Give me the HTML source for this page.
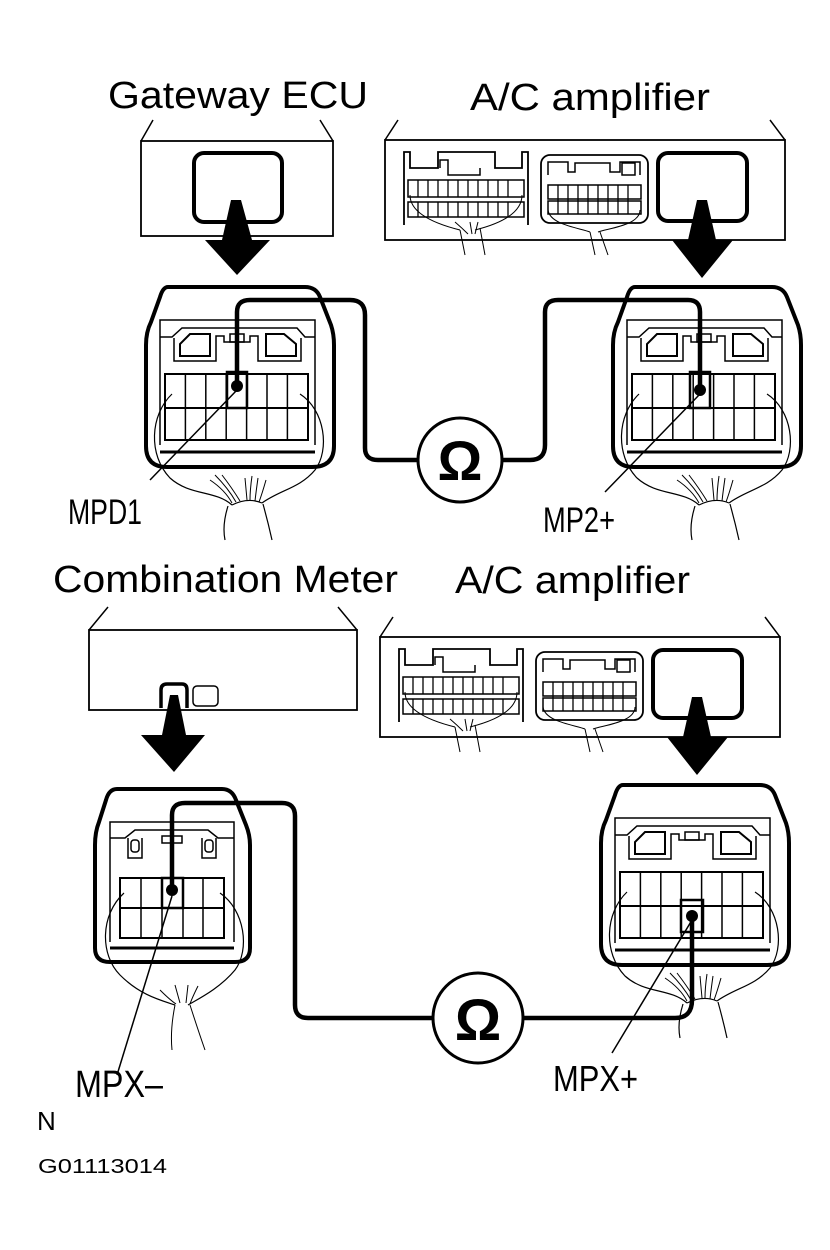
<!DOCTYPE html>
<html><head><meta charset="utf-8"><style>
html,body{margin:0;padding:0;background:#fff}
svg{display:block}
text{font-family:"Liberation Sans",sans-serif;fill:#000}
</style></head><body>
<svg width="830" height="1250" viewBox="0 0 830 1250" xmlns="http://www.w3.org/2000/svg">
<defs>
<g id="conn7" fill="none" stroke="#000">
  <path d="M168,287 L305,287 Q316,287 320,297 L331,325 Q334,334 334,345 L334,446 Q334,467 312,467 L167,467 Q146,467 146,446 L146,345 Q146,332 151,322 L160,297 Q163,287 168,287 Z" stroke-width="4"/>
  <path d="M160,445 L160,320 L315,320 L315,445" stroke-width="1.5"/>
  <line x1="160" y1="452" x2="315" y2="452" stroke-width="3"/>
  <path d="M160,337 L172,337 L182,328 L297,328 L305,337 L315,337" stroke-width="1.5"/>
  <path d="M174,338 L174,361 L216,361 L216,336 L224,336 L224,342 L250,342 L250,336 L258,336 L258,361 L301,361 L301,338" stroke-width="1.5"/>
  <path d="M180,356 L180,344 L190,334 L210,334 L210,356 Z" stroke-width="2"/>
  <path d="M266,356 L266,334 L284,334 L296,344 L296,356 Z" stroke-width="2"/>
  <rect x="230" y="334" width="14" height="8" stroke-width="1.5"/>
  <rect x="165" y="374" width="143" height="66" stroke-width="2"/>
  <line x1="165" y1="408" x2="308" y2="408" stroke-width="2"/>
  <line x1="185.4" y1="374" x2="185.4" y2="440" stroke-width="1.5"/>
  <line x1="205.8" y1="374" x2="205.8" y2="440" stroke-width="1.5"/>
  <line x1="226.2" y1="374" x2="226.2" y2="440" stroke-width="1.5"/>
  <line x1="246.6" y1="374" x2="246.6" y2="440" stroke-width="1.5"/>
  <line x1="267" y1="374" x2="267" y2="440" stroke-width="1.5"/>
  <line x1="287.4" y1="374" x2="287.4" y2="440" stroke-width="1.5"/>
  <path d="M172,394 C150,415 148,455 170,478 C190,496 215,490 232,505" stroke-width="1.2"/>
  <path d="M300,394 C325,410 330,450 315,470 C300,488 280,490 262,503" stroke-width="1.2"/>
  <path d="M232,505 Q248,497 262,503" stroke-width="1.2"/>
  <path d="M228,506 Q222,525 225,540 M263,504 Q268,522 272,540" stroke-width="1.2"/>
  <path d="M210,480 Q225,490 232,503 M215,475 Q228,488 236,502 M222,475 Q232,488 240,501 M245,478 L247,500 M252,476 Q250,490 250,500 M258,478 Q256,492 255,501 M266,480 Q262,494 259,502" stroke-width="1"/>
</g>
<g id="amp" fill="none" stroke="#000">
  <path d="M385,140 L398,120 M785,140 L770,120" stroke-width="1.5"/>
  <rect x="385" y="140" width="400" height="100" stroke-width="1.8"/>
  <path d="M404,225 L404,152 L410,152 L410,168 L438,168 L438,152 L495,152 L495,168 L522,168 L522,152 L528,152 L528,225" stroke-width="1.8"/>
  <path d="M440,168 L440,160 L448,160 L448,175 L480,175 L480,168" stroke-width="1.5"/>
  <rect x="408" y="180" width="116" height="17" stroke-width="1.5"/>
  <rect x="408" y="202" width="116" height="15" stroke-width="1.5"/>
  <path d="M418,180v17M428,180v17M438,180v17M448,180v17M458,180v17M468,180v17M478,180v17M488,180v17M498,180v17M508,180v17M418,202v15M428,202v15M438,202v15M448,202v15M458,202v15M468,202v15M478,202v15M488,202v15M498,202v15M508,202v15" stroke-width="1.3"/>
  <path d="M410,195 C410,215 440,225 460,230 M522,195 C522,215 495,225 475,230" stroke-width="1"/>
  <path d="M460,230 L465,255 M480,228 L485,255 M455,222 Q462,228 468,234 M470,222 L472,234 M478,222 L475,234" stroke-width="1"/>
  <rect x="541" y="155" width="107" height="68" rx="9" stroke-width="1.8"/>
  <path d="M548,175 L548,162 L568,162 L568,172 L575,172 L575,163 L610,163 L610,172 L620,172 L620,162 L640,162 L640,175" stroke-width="1.5"/>
  <rect x="622" y="163" width="13" height="12" stroke-width="1.5"/>
  <rect x="548" y="185" width="93" height="14" stroke-width="1.5"/>
  <rect x="548" y="201" width="93" height="13" stroke-width="1.5"/>
  <path d="M558,185v29M568,185v29M578,185v29M588,185v29M598,185v29M608,185v29M618,185v29M628,185v29" stroke-width="1.3"/>
  <path d="M548,210 C550,225 580,228 590,232 M640,210 C640,225 610,228 598,232 M590,232 L595,255 M600,232 L608,255" stroke-width="1"/>
  <rect x="658" y="153" width="89" height="68" rx="10" stroke-width="4"/>
  <path d="M697,200 L707,200 L716,240 L733,240 L702,278 L672,240 L688,240 Z" fill="#000" stroke="none"/>
</g>
</defs>

<!-- titles -->
<text x="108" y="108" font-size="38" textLength="260" lengthAdjust="spacingAndGlyphs">Gateway ECU</text>
<text x="470" y="110" font-size="38" textLength="240" lengthAdjust="spacingAndGlyphs">A/C amplifier</text>

<!-- Gateway ECU box -->
<g fill="none" stroke="#000">
  <path d="M141,141 L153,120 M333,141 L320,120" stroke-width="1.5"/>
  <rect x="141" y="141" width="192" height="95" stroke-width="1.8"/>
  <rect x="194" y="153" width="88" height="69" rx="10" stroke-width="4"/>
</g>
<path d="M231,200 L241,200 L252,240 L270,240 L237,275 L205,240 L222,240 Z" fill="#000"/>

<use href="#amp"/>

<!-- top connectors -->
<use href="#conn7"/>
<use href="#conn7" transform="translate(467,0)"/>

<!-- top wiring -->
<g fill="none" stroke="#000" stroke-width="4.5">
  <path d="M237,382 L237,312 Q237,300 250,300 L350,300 Q365,300 365,315 L365,448 Q365,460 378,460 L418,460"/>
  <path d="M502,460 L530,460 Q545,460 545,445 L545,312 Q545,300 558,300 L688,300 Q700,300 700,312 L700,385"/>
</g>
<rect x="227" y="372" width="20" height="36" fill="none" stroke="#000" stroke-width="2.5"/>
<circle cx="237" cy="386" r="6" fill="#000"/>
<rect x="690" y="372" width="20" height="36" fill="none" stroke="#000" stroke-width="2.5"/>
<circle cx="700" cy="390" r="6" fill="#000"/>
<line x1="237" y1="390" x2="150" y2="480" stroke="#000" stroke-width="1.5"/>
<line x1="700" y1="394" x2="605" y2="492" stroke="#000" stroke-width="1.5"/>
<circle cx="460" cy="460" r="42" fill="#fff" stroke="#000" stroke-width="3"/>
<text x="460" y="480" font-size="56" font-weight="bold" text-anchor="middle">Ω</text>

<text x="68" y="524" font-size="35" textLength="74" lengthAdjust="spacingAndGlyphs">MPD1</text>
<text x="543" y="532" font-size="35" textLength="72" lengthAdjust="spacingAndGlyphs">MP2+</text>

<text x="53" y="592" font-size="38" textLength="345" lengthAdjust="spacingAndGlyphs">Combination Meter</text>
<text x="455" y="593" font-size="38" textLength="235" lengthAdjust="spacingAndGlyphs">A/C amplifier</text>

<!-- Combination meter box -->
<g fill="none" stroke="#000">
  <path d="M89,630 L108,607 M357,630 L338,607" stroke-width="1.5"/>
  <rect x="89" y="630" width="268" height="80" stroke-width="1.8"/>
  <path d="M161,708 L161,690 Q161,684 167,684 L182,684 Q187,684 187,690 L187,708" stroke-width="3.5"/>
  <rect x="193" y="686" width="25" height="20" rx="4" stroke-width="1.5"/>
</g>
<path d="M170,695 L178,695 L186,735 L205,735 L174,772 L141,735 L162,735 Z" fill="#000"/>

<use href="#amp" transform="translate(-5,497)"/>

<!-- bottom-left connector (5 cols) -->
<g fill="none" stroke="#000">
  <path d="M117,789 L222,789 Q232,789 236,800 L246,825 Q250,835 250,845 L250,948 Q250,962 235,962 L110,962 Q95,962 95,948 L95,845 Q95,832 99,822 L106,800 Q109,789 117,789 Z" stroke-width="4"/>
  <path d="M110,942 L110,822 L234,822 L234,942" stroke-width="1.5"/>
  <line x1="110" y1="948" x2="234" y2="948" stroke-width="3"/>
  <path d="M110,838 L125,838 L135,830 L208,830 L218,838 L234,838" stroke-width="1.5"/>
  <path d="M128,838 L128,858 L142,858 L142,838 M202,838 L202,858 L216,858 L216,838" stroke-width="1.5"/>
  <rect x="131" y="840" width="8" height="12" rx="3" stroke-width="1.5"/>
  <rect x="205" y="840" width="8" height="12" rx="3" stroke-width="1.5"/>
  <rect x="162" y="836" width="20" height="7" stroke-width="1.5"/>
  <rect x="120" y="878" width="104" height="60" stroke-width="2"/>
  <line x1="120" y1="908" x2="224" y2="908" stroke-width="2"/>
  <path d="M141,878v60M162,878v60M183,878v60M203,878v60" stroke-width="1.5"/>
  <path d="M124,893 C100,915 100,955 120,975 C140,995 160,1000 175,1005 M220,893 C245,910 250,950 235,970 C220,988 200,998 188,1005" stroke-width="1.2"/>
  <path d="M175,1005 Q170,1030 172,1050 M190,1005 Q198,1030 205,1050 M160,990 Q170,1000 176,1004 M175,985 L180,1003 M188,985 L186,1003 M198,986 Q192,998 190,1004" stroke-width="1"/>
</g>

<!-- bottom-right connector -->
<use href="#conn7" transform="translate(455,498)"/>

<!-- bottom wiring -->
<g fill="none" stroke="#000" stroke-width="4.5">
  <path d="M172,888 L172,815 Q172,803 185,803 L282,803 Q295,803 295,816 L295,1005 Q295,1018 308,1018 L433,1018"/>
  <path d="M523,1018 L675,1018 Q692,1018 692,1000 L692,918"/>
</g>
<rect x="162" y="878" width="21" height="30" fill="none" stroke="#000" stroke-width="2.5"/>
<circle cx="172" cy="890" r="6" fill="#000"/>
<rect x="681" y="900" width="22" height="32" fill="none" stroke="#000" stroke-width="2.5"/>
<circle cx="692" cy="916" r="6" fill="#000"/>
<line x1="172" y1="896" x2="117" y2="1075" stroke="#000" stroke-width="1.5"/>
<line x1="692" y1="920" x2="612" y2="1053" stroke="#000" stroke-width="1.5"/>
<circle cx="478" cy="1018" r="45" fill="#fff" stroke="#000" stroke-width="3"/>
<text x="478" y="1040" font-size="58" font-weight="bold" text-anchor="middle">Ω</text>

<text x="75" y="1097" font-size="38" textLength="88" lengthAdjust="spacingAndGlyphs">MPX–</text>
<text x="553" y="1091" font-size="36" textLength="85" lengthAdjust="spacingAndGlyphs">MPX+</text>
<text x="37" y="1130" font-size="26">N</text>
<text x="38" y="1173" font-size="20" textLength="129" lengthAdjust="spacingAndGlyphs">G01113014</text>
</svg>
</body></html>
